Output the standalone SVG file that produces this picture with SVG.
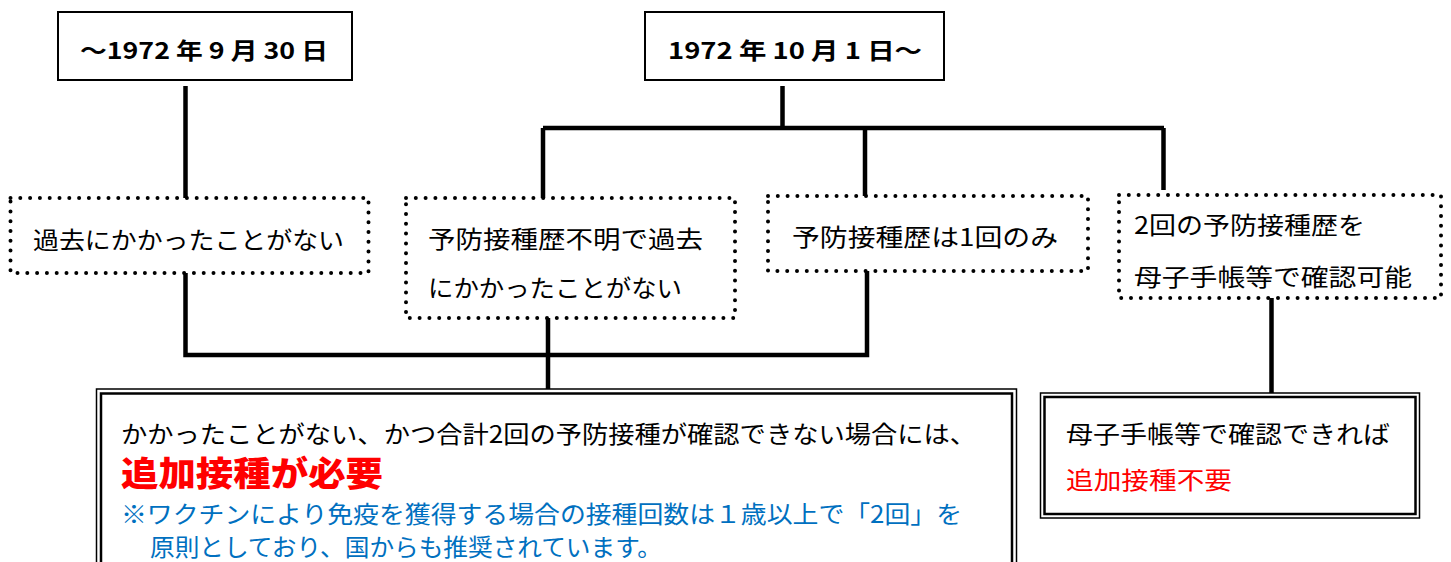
<svg xmlns="http://www.w3.org/2000/svg" width="1451" height="562" viewBox="0 0 1451 562">
<style>
text{font-family:"Noto Sans CJK JP","Noto Sans",sans-serif;dominant-baseline:central;lengthAdjust:spacingAndGlyphs}
.t{font-size:23px;font-weight:bold;fill:#000}
.n{font-size:24px;fill:#000}
.red{font-size:24px;fill:#FF0000}
.big{font-size:34px;font-weight:900;fill:#FF0000}
.blue{font-size:24px;fill:#0070C0}
.solid{fill:#fff;stroke:#000;stroke-width:2}
.dot{fill:#fff;stroke:#000;stroke-width:4;stroke-dasharray:0 9.8;stroke-linecap:round}
.outer{fill:#fff;stroke:#000;stroke-width:1.5}
.inner{fill:none;stroke:#000;stroke-width:2.5}
.c{fill:none;stroke:#000;stroke-width:4.5}
</style>
<rect width="1451" height="562" fill="#fff"/>
<g id="connectors">
<path class="c" d="M185.5,86 V198"/>
<path class="c" d="M782.5,86 V128 M543,128 H1164 M543,128 V198 M865,128 V196 M1163.5,128 V190"/>
<path class="c" d="M185.5,273 V355 H867 V271 M548,318 V389"/>
<path class="c" d="M1271.5,298 V393"/>
</g>
<g id="box-before">
<rect class="solid" x="58" y="12" width="294" height="68"/>
<text class="t" x="80" y="49" textLength="248" lengthAdjust="spacingAndGlyphs">～1972 年 9 月 30 日</text>
</g>
<g id="box-after">
<rect class="solid" x="645" y="12" width="299" height="68"/>
<text class="t" x="668" y="49" textLength="254" lengthAdjust="spacingAndGlyphs">1972 年 10 月 1 日～</text>
</g>
<g id="node-a">
<rect class="dot" x="10.5" y="198" width="358" height="75"/>
<text class="n" x="33" y="238" textLength="311" lengthAdjust="spacingAndGlyphs">過去にかかったことがない</text>
</g>
<g id="node-b">
<rect class="dot" x="406" y="198" width="329" height="120"/>
<text class="n" x="428" y="237" textLength="275" lengthAdjust="spacingAndGlyphs">予防接種歴不明で過去</text>
<text class="n" x="428" y="286" textLength="254" lengthAdjust="spacingAndGlyphs">にかかったことがない</text>
</g>
<g id="node-c">
<rect class="dot" x="768" y="196" width="320" height="75"/>
<text class="n" x="792" y="235" textLength="266" lengthAdjust="spacingAndGlyphs">予防接種歴は1回のみ</text>
</g>
<g id="node-d">
<rect class="dot" x="1119" y="195" width="322" height="103"/>
<text class="n" x="1134" y="223" textLength="231" lengthAdjust="spacingAndGlyphs">2回の予防接種歴を</text>
<text class="n" x="1134" y="275" textLength="278" lengthAdjust="spacingAndGlyphs">母子手帳等で確認可能</text>
</g>
<g id="result-required">
<rect class="outer" x="96.5" y="389" width="920" height="200"/>
<rect class="inner" x="101" y="393.5" width="911" height="200"/>
<text class="n" x="121" y="432" textLength="855" lengthAdjust="spacingAndGlyphs">かかったことがない、かつ合計2回の予防接種が確認できない場合には、</text>
<text class="big" x="121" y="471" textLength="262" lengthAdjust="spacingAndGlyphs">追加接種が必要</text>
<text class="blue" x="121" y="512" textLength="841" lengthAdjust="spacingAndGlyphs">※ワクチンにより免疫を獲得する場合の接種回数は１歳以上で「2回」を</text>
<text class="blue" x="150" y="545" textLength="512" lengthAdjust="spacingAndGlyphs">原則としており、国からも推奨されています。</text>
</g>
<g id="result-not-required">
<rect class="outer" x="1040.5" y="393" width="379" height="125"/>
<rect class="inner" x="1044.5" y="397" width="371" height="117"/>
<text class="n" x="1066" y="432" textLength="324" lengthAdjust="spacingAndGlyphs">母子手帳等で確認できれば</text>
<text class="red" x="1066" y="478" textLength="166" lengthAdjust="spacingAndGlyphs">追加接種不要</text>
</g>
</svg>
